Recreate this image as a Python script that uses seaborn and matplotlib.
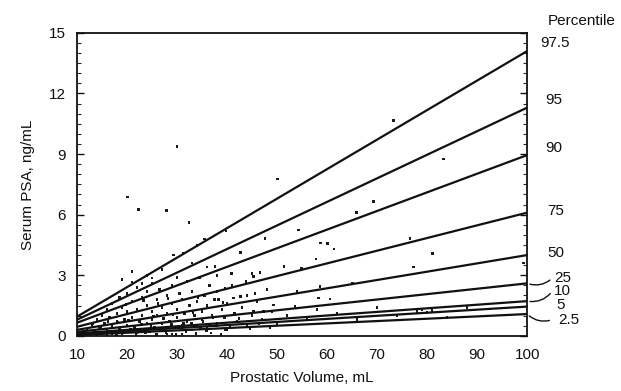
import numpy as np
import pandas as pd
import matplotlib
matplotlib.use("Agg")
import matplotlib.pyplot as plt
from matplotlib.ticker import MultipleLocator
import seaborn as sns

# ---- data ----
percentiles = ["97.5", "95", "90", "75", "50", "25", "10", "5", "2.5"]
psa_at_10 = [0.95, 0.80, 0.65, 0.45, 0.30, 0.20, 0.12, 0.08, 0.04]
psa_at_100 = [14.1, 11.3, 8.95, 6.1, 4.0, 2.6, 1.72, 1.45, 1.08]
volume_ends = [10, 100]

pt_volume = [
    20.1, 22.3, 27.9, 32.4, 35.5, 34.0, 29.3, 31.2, 21.0, 37.6, 25.0, 30.0,
    50.1, 65.9, 54.3, 47.6, 39.8, 58.7, 60.1, 61.4, 57.8, 51.4, 54.9, 42.7,
    40.9, 45.0, 45.3, 46.6, 43.8, 58.6, 65.1, 41.3, 42.7, 45.6, 49.3, 47.3,
    45.3, 58.3, 60.6, 53.6, 39.6, 38.3, 73.3, 83.3, 69.3, 76.6, 81.1, 77.3,
    99.3,
    12, 13, 13.5, 14, 14.5, 15, 15, 15.5, 16, 16, 16.5, 17, 17, 17.5, 18, 18,
    18.5, 18.5, 19, 19, 19.5, 20, 20, 20, 20.5, 21, 21, 21.5, 22, 22, 22,
    22.5, 23, 23, 23.5, 24, 24, 24, 24.5, 25, 25, 25, 25.5, 26, 26, 26.5, 27,
    27, 27.5, 28, 28, 28.5, 29, 29, 29.5, 30, 30, 30.5, 31, 31, 31.5, 32, 32,
    32.5, 33, 33, 33.5, 34, 34, 34.5, 35, 35, 35.5, 36, 36, 36.5, 37, 37.5,
    38, 38, 39, 39.5, 40, 40, 41, 41.5, 42, 43, 44, 44, 45, 46, 47, 48, 49,
    50, 52, 54, 56, 58, 62, 66, 70, 74, 78, 79, 80, 81, 84, 88,
    19, 21, 24, 27, 30, 33, 36, 38, 23, 26, 29, 17, 14, 16, 11, 12.5, 28, 31,
    15.2, 16.8, 17.9, 19.3, 20.7, 21.8, 22.6, 23.7, 24.8, 25.9, 26.7, 27.8,
    28.9, 29.8, 30.9, 31.8, 32.9, 33.8, 34.7, 35.9, 36.8, 37.9, 38.8, 39.7,
    18.2, 20.3, 22.9, 25.3, 27.3, 29.2, 31.3, 33.2, 35.2, 37.2, 40.6, 42.4,
    44.6, 46.4, 48.6, 13.2, 14.8, 16.2, 19.8, 23.3, 26.2, 28.2, 34.2, 39.2,
]
pt_psa = [
    6.87, 6.27, 6.22, 5.61, 4.79, 4.47, 4.00, 4.09, 2.66, 3.43, 2.87, 9.37,
    7.76, 6.10, 5.25, 4.82, 5.20, 4.59, 4.57, 4.31, 3.80, 3.43, 3.35, 4.12,
    3.10, 3.10, 2.95, 3.13, 2.69, 2.44, 2.60, 1.88, 1.95, 2.11, 1.53, 1.20,
    1.20, 1.87, 1.83, 1.45, 2.36, 1.79, 10.66, 8.75, 6.65, 4.83, 4.09, 3.40,
    3.60,
    0.3, 0.5, 0.2, 0.8, 0.4, 1.0, 0.15, 0.6, 1.3, 0.3, 0.9, 0.5, 1.6, 0.2, 1.1, 0.7,
    1.9, 0.35, 1.4, 0.1, 0.8, 2.1, 0.5, 1.2, 0.25, 1.7, 0.9, 0.4, 2.4, 1.3, 0.15,
    0.7, 1.9, 1.0, 0.3, 2.2, 1.5, 0.6, 0.2, 1.2, 2.6, 0.8, 0.4, 1.8, 1.0, 2.3, 0.6,
    1.4, 0.25, 2.0, 1.1, 0.7, 1.6, 2.5, 0.4, 1.3, 0.9, 2.1, 0.5, 1.8, 1.1, 2.7, 0.7,
    1.5, 0.3, 2.2, 1.0, 1.7, 0.5, 2.9, 1.2, 0.8, 2.0, 1.5, 0.4, 2.5, 1.0, 1.8,
    0.6, 2.2, 1.3, 0.9, 1.6, 0.3, 2.5, 1.1, 0.7, 1.4, 2.0, 0.5, 1.0, 1.7, 0.8, 2.3, 1.2,
    0.6, 1.0, 2.2, 0.9, 1.3, 1.1, 0.8, 1.4, 1.0, 1.2, 1.3, 1.15, 1.25, 0.9, 1.4,
    2.8, 3.2, 3.0, 3.3, 2.9, 3.6, 3.4, 3.0, 2.6, 0.05, 0.1, 0.1, 0.05, 0.05, 0.1, 0.1, 0.1, 0.1,
    0.12, 0.22, 0.08, 0.18, 0.32, 0.06, 0.28, 0.14, 0.45, 0.09, 0.35, 0.16,
    0.55, 0.07, 0.42, 0.2, 0.62, 0.11, 0.38, 0.25, 0.15, 0.5, 0.08, 0.3,
    0.65, 0.75, 0.55, 0.95, 0.85, 1.05, 0.6, 1.15, 0.7, 0.9, 0.45, 0.85,
    0.35, 0.6, 0.4, 0.6, 0.45, 0.7, 1.55, 1.75, 1.6, 1.85, 1.9, 1.65,
]

label_y = [14.5, 11.7, 9.3, 6.2, 4.1, 2.85, 2.2, 1.55, 0.8]

# ---- build frames ----
rows = []
for p, a, b in zip(percentiles, psa_at_10, psa_at_100):
    rows.append({"pct": p, "vol": volume_ends[0], "psa": a})
    rows.append({"pct": p, "vol": volume_ends[1], "psa": b})
lines_df = pd.DataFrame(rows)
pts_df = pd.DataFrame({"vol": pt_volume, "psa": pt_psa})

sns.set_style("white")
plt.rcParams["font.family"] = ["Liberation Sans", "DejaVu Sans"]

fig = plt.figure(figsize=(6.21, 3.91), dpi=100)
ax = fig.add_axes([0.124, 0.141, 0.725, 0.775])

sns.scatterplot(data=pts_df, x="vol", y="psa", ax=ax, color="#1a1a1a",
                s=3.5, marker="s", edgecolor="none", legend=False, zorder=2)
sns.lineplot(data=lines_df, x="vol", y="psa", hue="pct", hue_order=percentiles,
             palette=["#111111"] * len(percentiles), linewidth=1.6,
             ax=ax, legend=False, zorder=3)

ax.set_xlim(10, 100)
ax.set_ylim(0, 15)
ax.set_xticks(range(10, 101, 10))
ax.set_yticks([0, 3, 6, 9, 12, 15])
ax.yaxis.set_minor_locator(MultipleLocator(0.5))
ax.tick_params(axis="both", which="major", direction="in", length=5,
               width=1, labelsize=11, colors="#111111")
ax.tick_params(axis="x", which="major", pad=9)
ax.tick_params(axis="y", which="major", pad=8)
ax.tick_params(axis="y", which="both", right=True, left=True, direction="in")
ax.tick_params(axis="y", which="minor", length=3, width=0.8)
ax.tick_params(axis="y", which="major", labelright=False)
ax.tick_params(axis="x", which="major", top=False)

for sp in ax.spines.values():
    sp.set_color("#111111")
    sp.set_linewidth(1.3)

ax.set_xlabel("Prostatic Volume, mL", fontsize=11, color="#111111", labelpad=6)
ax.set_ylabel("Serum PSA, ng/mL", fontsize=11, color="#111111", labelpad=10)

# right-side labels
ax.text(1.045, 1.04, "Percentile", transform=ax.transAxes, fontsize=11,
        color="#111111", ha="left", va="center")
offsets = [0.03, 0.04, 0.04, 0.045, 0.045, 0.06, 0.06, 0.065, 0.07]
for lab, ly, off in zip(percentiles, label_y, offsets):
    ax.text(1.0 + off, ly, lab, transform=ax.get_yaxis_transform(),
            fontsize=11, color="#111111", ha="left", va="center",
            clip_on=False)

# leader strokes for crowded labels
for (y0, y1) in [(2.6, 2.85), (1.72, 2.2), (1.08, 0.8)]:
    ax.annotate("", xy=(1.055, y1), xycoords=ax.get_yaxis_transform(),
                xytext=(1.0, y0), textcoords=ax.get_yaxis_transform(),
                arrowprops=dict(arrowstyle="-", lw=1.0, color="#111111",
                                connectionstyle="arc3,rad=0.3"),
                annotation_clip=False)

fig.savefig("out.png", dpi=100, facecolor="white")
